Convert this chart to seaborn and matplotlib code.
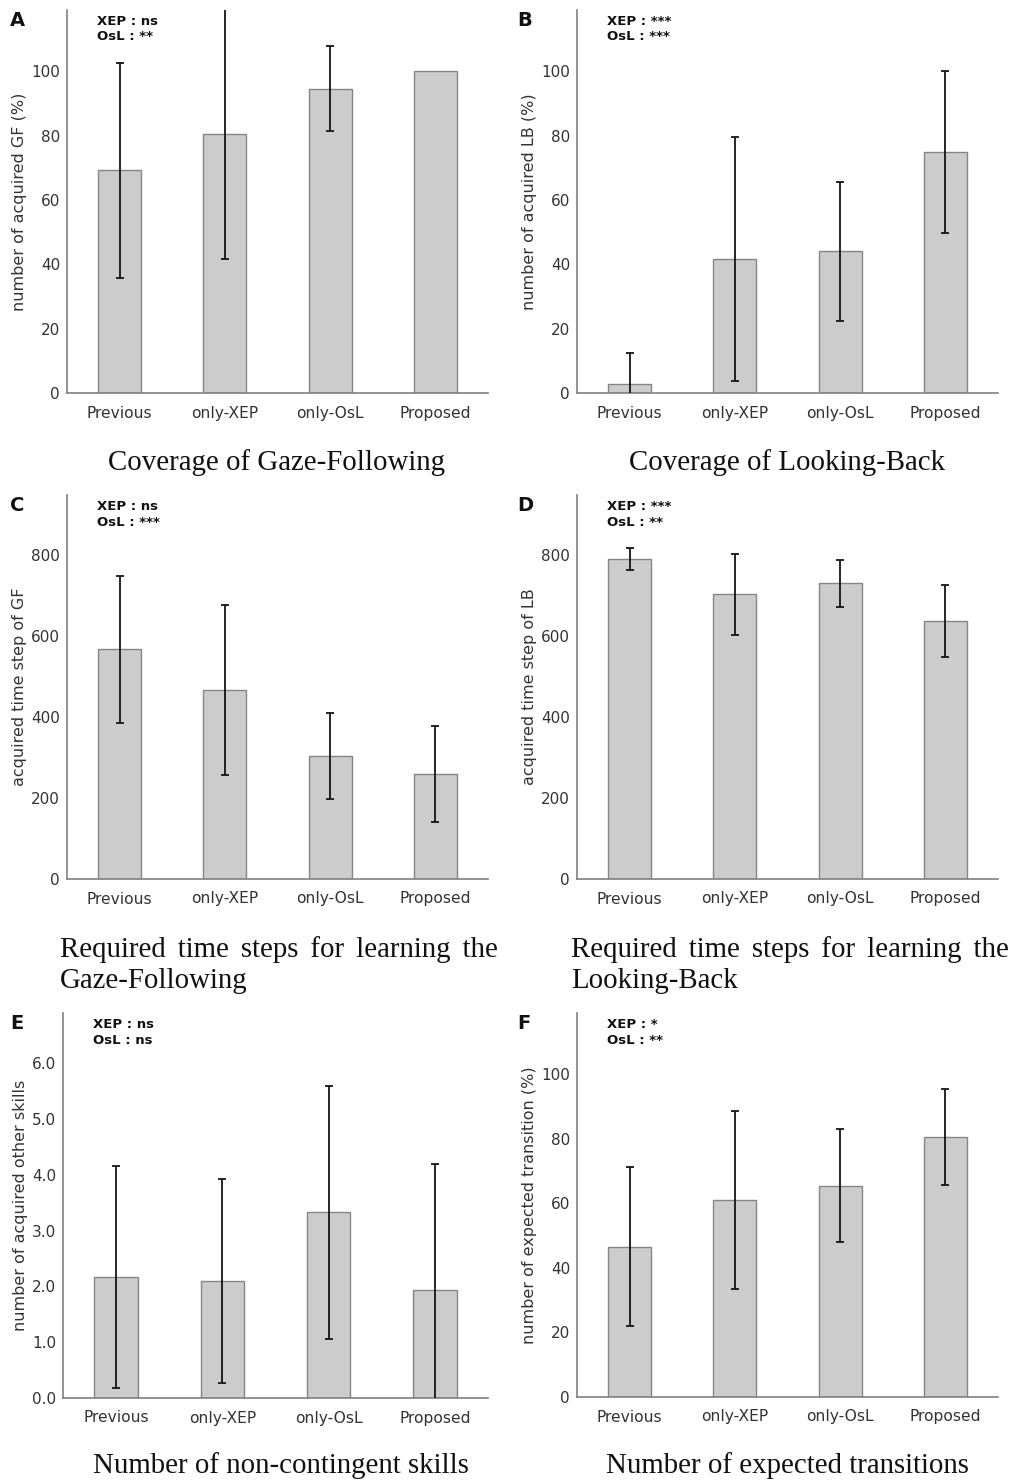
import numpy as np
import matplotlib
matplotlib.use("Agg")
import matplotlib.pyplot as plt
import seaborn as sns
from matplotlib.ticker import FixedLocator, FormatStrFormatter

sns.set_style("white")
plt.rcParams['font.family'] = ['DejaVu Sans']

# data (mean and SD per method)
methods = ["Previous", "only-XEP", "only-OsL", "Proposed"]

gf_cov_mean = [69.2, 80.6, 94.6, 100.0]
gf_cov_sd = [33.4, 39.0, 13.3, 0.0]
lb_cov_mean = [2.7, 41.6, 44.1, 74.8]
lb_cov_sd = [9.6, 37.9, 21.6, 25.2]
gf_time_mean = [567, 467, 304, 259]
gf_time_sd = [182, 210, 106, 119]
lb_time_mean = [790, 703, 730, 637]
lb_time_sd = [26, 100, 58, 90]
other_mean = [2.17, 2.09, 3.33, 1.93]
other_sd = [1.99, 1.83, 2.27, 2.26]
trans_mean = [46.6, 61.0, 65.4, 80.5]
trans_sd = [24.6, 27.5, 17.5, 14.8]

sig_xep = ["ns", "***", "ns", "***", "ns", "*"]
sig_osl = ["**", "***", "***", "**", "ns", "**"]
letters = ["A", "B", "C", "D", "E", "F"]
ylabels = ["number of acquired GF (%)", "number of acquired LB (%)",
           "acquired time step of GF", "acquired time step of LB",
           "number of acquired other skills", "number of expected transition (%)"]
sp6 = " \u2006"  # slightly wider word gap, the captions look justified
titles = ["Coverage of Gaze-Following", "Coverage of Looking-Back",
          sp6.join("Required time steps for learning the".split()) + "\nGaze-Following",
          sp6.join("Required time steps for learning the".split()) + "\nLooking-Back",
          "Number of non-contingent skills", "Number of expected transitions"]

W, H = 1012, 1483
fig = plt.figure(figsize=(W / 100, H / 100), dpi=100)

# axes boxes in pixels: left, right, top, bottom
boxes = [(67, 488, 10, 393), (577, 998, 10, 393),
         (67, 488, 495, 879), (577, 998, 495, 879),
         (63, 488, 1013, 1398), (577, 998, 1013, 1397)]
panels = [(gf_cov_mean, gf_cov_sd, 119, np.arange(0, 101, 20), "%d"),
          (lb_cov_mean, lb_cov_sd, 119, np.arange(0, 101, 20), "%d"),
          (gf_time_mean, gf_time_sd, 948, np.arange(0, 801, 200), "%d"),
          (lb_time_mean, lb_time_sd, 948, np.arange(0, 801, 200), "%d"),
          (other_mean, other_sd, 6.9, np.arange(0, 6.01, 1.0), "%.1f"),
          (trans_mean, trans_sd, 119, np.arange(0, 101, 20), "%d")]

spine_c = "#808080"
text_c = "#333333"

for i, (box, (mean, sd, ymax, yt, fmt)) in enumerate(zip(boxes, panels)):
    l, r, t, b = box
    ax = fig.add_axes([l / W, 1 - b / H, (r - l) / W, (b - t) / H])
    sns.barplot(x=methods, y=mean, ax=ax, color="#cccccc", saturation=1,
                edgecolor="#858585", linewidth=1.0, width=0.41, errorbar=None)
    pos = np.arange(len(methods))
    m = np.array(mean, dtype=float)
    s = np.array(sd, dtype=float)
    keep = s > 0
    ax.errorbar(pos[keep], m[keep], yerr=s[keep], fmt="none", ecolor="#151515",
                elinewidth=1.3, capsize=3, capthick=1.3, zorder=5)

    ax.set_xlim(-0.5, 3.5)
    ax.set_ylim(0, ymax)
    ax.set_yticks(yt)
    ax.yaxis.set_major_formatter(FormatStrFormatter(fmt))
    ax.xaxis.set_minor_locator(FixedLocator(np.arange(-0.5, 3.6, 1.0)))
    ax.tick_params(axis="x", which="major", length=0, pad=9,
                   labelsize=11.2, labelcolor=text_c)
    ax.tick_params(axis="x", which="minor", length=5, width=1,
                   color=spine_c, direction="out")
    ax.tick_params(axis="y", length=3, width=1, color=spine_c,
                   direction="out", labelsize=11, labelcolor=text_c, pad=2)
    for sp in ["top", "right"]:
        ax.spines[sp].set_visible(False)
    for sp in ["left", "bottom"]:
        ax.spines[sp].set_color(spine_c)
        ax.spines[sp].set_linewidth(1.2)
    ax.set_ylabel(ylabels[i], fontsize=11.5, color=text_c, labelpad=3)
    ax.set_xlabel("")

    # significance annotation
    fig.text((l + 30) / W, 1 - (t + 5) / H,
             "XEP : %s\nOsL : %s" % (sig_xep[i], sig_osl[i]),
             fontsize=9.5, fontweight="bold", color="#111111",
             ha="left", va="top", linespacing=1.25)
    # panel letter
    fig.text((10 if l < 300 else 517) / W, 1 - (t + 1) / H, letters[i],
             fontsize=14, fontweight="bold", color="#111111",
             ha="left", va="top")

# panel captions (serif)
cap_font = dict(family=["Liberation Serif", "DejaVu Serif"], fontsize=20.8,
                color="#111111")
fig.text(277 / W, 1 - 470 / H, titles[0], ha="center", va="baseline", **cap_font)
fig.text(787 / W, 1 - 470 / H, titles[1], ha="center", va="baseline", **cap_font)
fig.text(60 / W, 1 - 936 / H, titles[2], ha="left", va="top",
         linespacing=1.25, **cap_font)
fig.text(571 / W, 1 - 936 / H, titles[3], ha="left", va="top",
         linespacing=1.25, **cap_font)
fig.text(281 / W, 1 - 1473 / H, titles[4], ha="center", va="baseline", **cap_font)
fig.text(787 / W, 1 - 1473 / H, titles[5], ha="center", va="baseline", **cap_font)

fig.savefig("out.png", dpi=100, facecolor="white")
